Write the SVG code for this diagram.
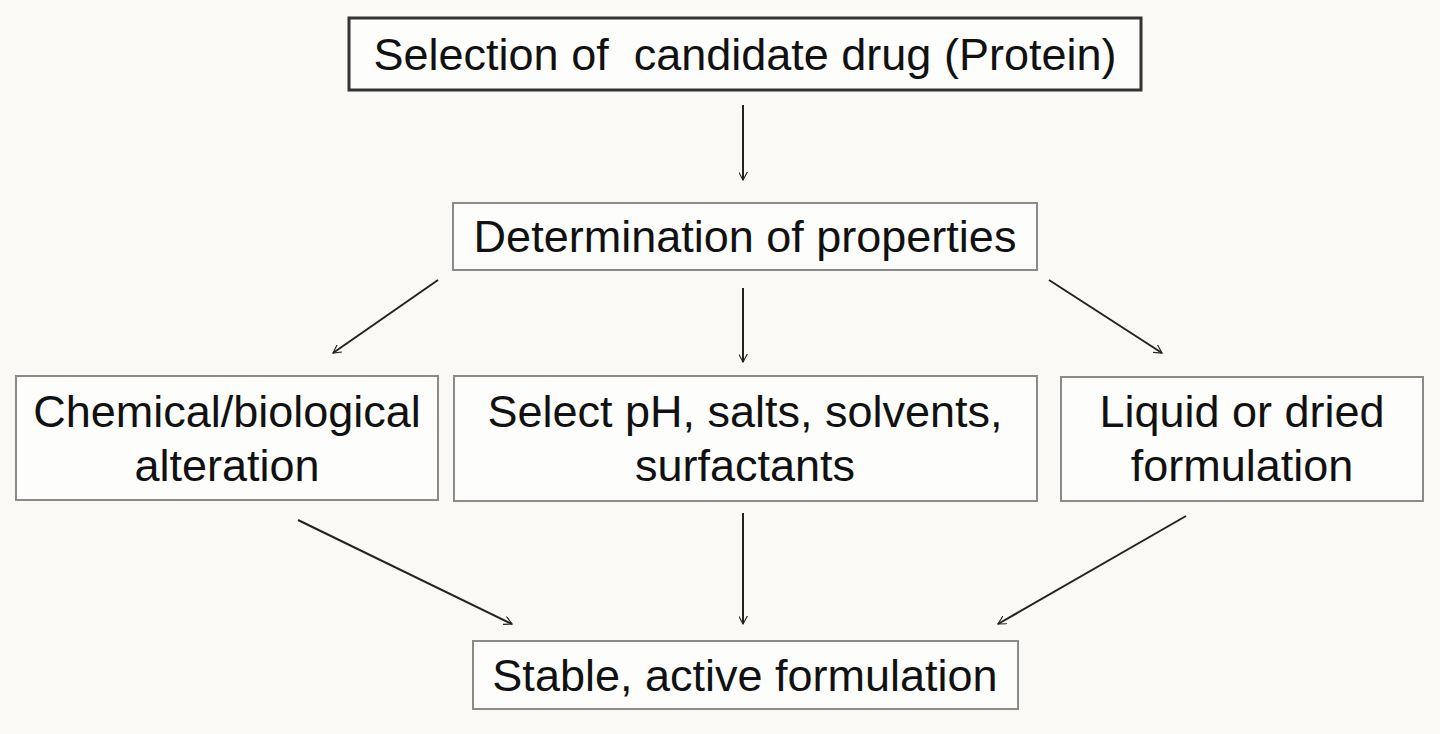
<svg xmlns="http://www.w3.org/2000/svg" width="1440" height="734" viewBox="0 0 1440 734">
<defs>
<style>
.box{fill:#fdfdfc;stroke:#8a8a8a;stroke-width:2}
.t{font-family:"Liberation Sans",Arial,sans-serif;font-size:45px;fill:#111;text-anchor:middle;white-space:pre}
.c{stroke:#222;stroke-width:2;fill:none;marker-end:url(#a)}
</style>
<marker id="a" viewBox="0 0 12 12" refX="11" refY="6" markerWidth="9" markerHeight="9" orient="auto" markerUnits="userSpaceOnUse"><path d="M0,0 L11,6 L0,12" fill="none" stroke="#222" stroke-width="1.5"/></marker>
</defs>
<rect width="1440" height="734" fill="#faf9f6"/>
<g id="n1"><rect x="349" y="18" width="792" height="72" fill="#fdfdfc" stroke="#333" stroke-width="3"/><text class="t" x="745" y="70" xml:space="preserve">Selection of  candidate drug (Protein)</text></g>
<g id="n2"><rect class="box" x="453" y="203" width="584" height="67"/><text class="t" x="745" y="252">Determination of properties</text></g>
<g id="n3"><rect class="box" x="16" y="376" width="422" height="124"/><text class="t" x="227" y="427">Chemical/biological</text><text class="t" x="227" y="481">alteration</text></g>
<g id="n4"><rect class="box" x="454" y="376" width="583" height="125"/><text class="t" x="745" y="427">Select pH, salts, solvents,</text><text class="t" x="745" y="481">surfactants</text></g>
<g id="n5"><rect class="box" x="1061" y="377" width="362" height="124"/><text class="t" x="1242" y="427">Liquid or dried</text><text class="t" x="1242" y="481">formulation</text></g>
<g id="n6"><rect class="box" x="473" y="641" width="545" height="68"/><text class="t" x="745" y="691">Stable, active formulation</text></g>
<g id="edges">
<line class="c" x1="743" y1="105" x2="743" y2="180"/>
<line class="c" x1="438" y1="280" x2="333" y2="353"/>
<line class="c" x1="743" y1="288" x2="743" y2="362"/>
<line class="c" x1="1049" y1="280" x2="1162" y2="353"/>
<line class="c" x1="298" y1="520" x2="512" y2="624"/>
<line class="c" x1="743" y1="513" x2="743" y2="624"/>
<line class="c" x1="1186" y1="516" x2="998" y2="624"/>
</g>
</svg>
